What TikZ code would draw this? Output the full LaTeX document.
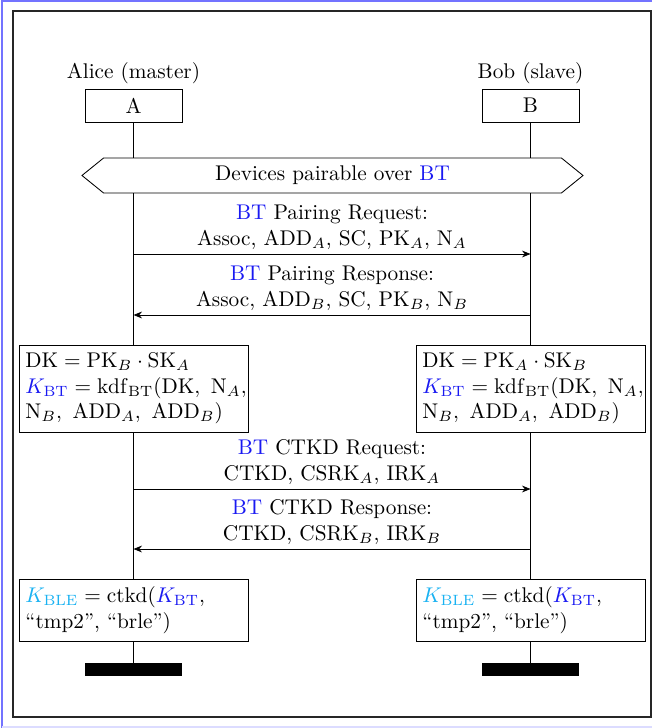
\documentclass[tikz,border=0pt]{standalone}
\usepackage{amsmath}
\usepackage{amssymb}
\usetikzlibrary{arrows.meta,positioning,shapes.symbols,backgrounds}
\definecolor{btblue}{rgb}{0.1,0.1,0.95}
\definecolor{bleblue}{rgb}{0.1,0.7,0.95}
\definecolor{pageblue}{rgb}{0.45,0.45,1}
\newcommand{\bt}{\textcolor{btblue}{BT}}
\newcommand{\kbt}{{\color{btblue}K_{\mathrm{BT}}}}
\newcommand{\kble}{{\color{bleblue}K_{\mathrm{BLE}}}}
\tikzset{
  party/.style={
    draw,
    fill=white,
    minimum width=45.6pt,
    minimum height=15.5pt,
    inner sep=0pt
  },
  partyname/.style={
    inner sep=2pt
  },
  hexbox/.style={
    draw,
    fill=white,
    signal,
    signal to=west and east,
    signal pointer angle=78,
    minimum width=235.5pt,
    minimum height=16.4pt,
    inner sep=0pt
  },
  calc box/.style={
    draw,
    fill=white,
    align=left,
    text width=102pt,
    inner xsep=2.8pt,
    inner ysep=0pt,
    minimum height=#1
  },
  lifeend/.style={
    fill=black,
    minimum width=45.6pt,
    minimum height=6.1pt,
    inner sep=0pt
  },
  msg/.style={
    -{Stealth[length=4pt,width=3.2pt]}
  },
  msglabel/.style={
    align=center,
    inner sep=2pt
  }
}
\begin{document}
\begin{tikzpicture}[x=0.47pt,y=-0.47pt]
\useasboundingbox (0,0) rectangle (652,728);
% page and frame
\draw[pageblue,line width=0.9pt] (2,728) -- (2,1) -- (652,1);
\draw[pageblue!25,line width=0.9pt] (2,727) -- (652,727);
\draw[semithick,black!85] (13,11) rectangle (651,717);
% parties
\node[party] (A) at (133.5,105.5) {A};
\node[party] (B) at (530.5,105.5) {B};
\node[partyname,above=0pt of A] (alice) {Alice (master)};
\node[partyname,above=0pt of B] (bob) {Bob (slave)};
% phase 1
\node[hexbox] (pair) at (332.5,175.5) {Devices pairable over \bt};
\coordinate (r1a) at (133.5,254);
\coordinate (r1b) at (530.5,254);
\coordinate (r2a) at (133.5,315);
\coordinate (r2b) at (530.5,315);
\draw[msg] (r1a) -- node[msglabel,above] {\bt{} Pairing Request:\\Assoc, ADD$_A$, SC, PK$_A$, N$_A$} (r1b);
\draw[msg] (r2b) -- node[msglabel,above] {\bt{} Pairing Response:\\Assoc, ADD$_B$, SC, PK$_B$, N$_B$} (r2a);
% key derivation
\node[calc box=40.9pt] (kA) at (134,388.5) {\mbox{$\mathrm{DK} = \mathrm{PK}_B \cdot \mathrm{SK}_A$}\\
  \mbox{$\kbt = \mathrm{kdf}_{\mathrm{BT}}(\mathrm{DK},\ \mathrm{N}_A,$}\\
  \mbox{$\mathrm{N}_B,\ \mathrm{ADD}_A,\ \mathrm{ADD}_B)$}};
\node[calc box=40.9pt] (kB) at (531,388.5) {\mbox{$\mathrm{DK} = \mathrm{PK}_A \cdot \mathrm{SK}_B$}\\
  \mbox{$\kbt = \mathrm{kdf}_{\mathrm{BT}}(\mathrm{DK},\ \mathrm{N}_A,$}\\
  \mbox{$\mathrm{N}_B,\ \mathrm{ADD}_A,\ \mathrm{ADD}_B)$}};
% ctkd
\coordinate (r3a) at (133.5,489);
\coordinate (r3b) at (530.5,489);
\coordinate (r4a) at (133.5,549);
\coordinate (r4b) at (530.5,549);
\draw[msg] (r3a) -- node[msglabel,above] {\bt{} CTKD Request:\\CTKD, CSRK$_A$, IRK$_A$} (r3b);
\draw[msg] (r4b) -- node[msglabel,above] {\bt{} CTKD Response:\\CTKD, CSRK$_B$, IRK$_B$} (r4a);
\node[calc box=29.1pt] (bleA) at (134,610) {\mbox{$\kble = \mathrm{ctkd}(\kbt,$}\\
  ``tmp2'', ``brle'')};
\node[calc box=29.1pt] (bleB) at (531,610) {\mbox{$\kble = \mathrm{ctkd}(\kbt,$}\\
  ``tmp2'', ``brle'')};
% ends
\node[lifeend] (endA) at (133.5,669.5) {};
\node[lifeend] (endB) at (530.5,669.5) {};
\begin{pgfonlayer}{background}
  \draw (A) -- (endA);
  \draw (B) -- (endB);
\end{pgfonlayer}
\end{tikzpicture}
\end{document}
